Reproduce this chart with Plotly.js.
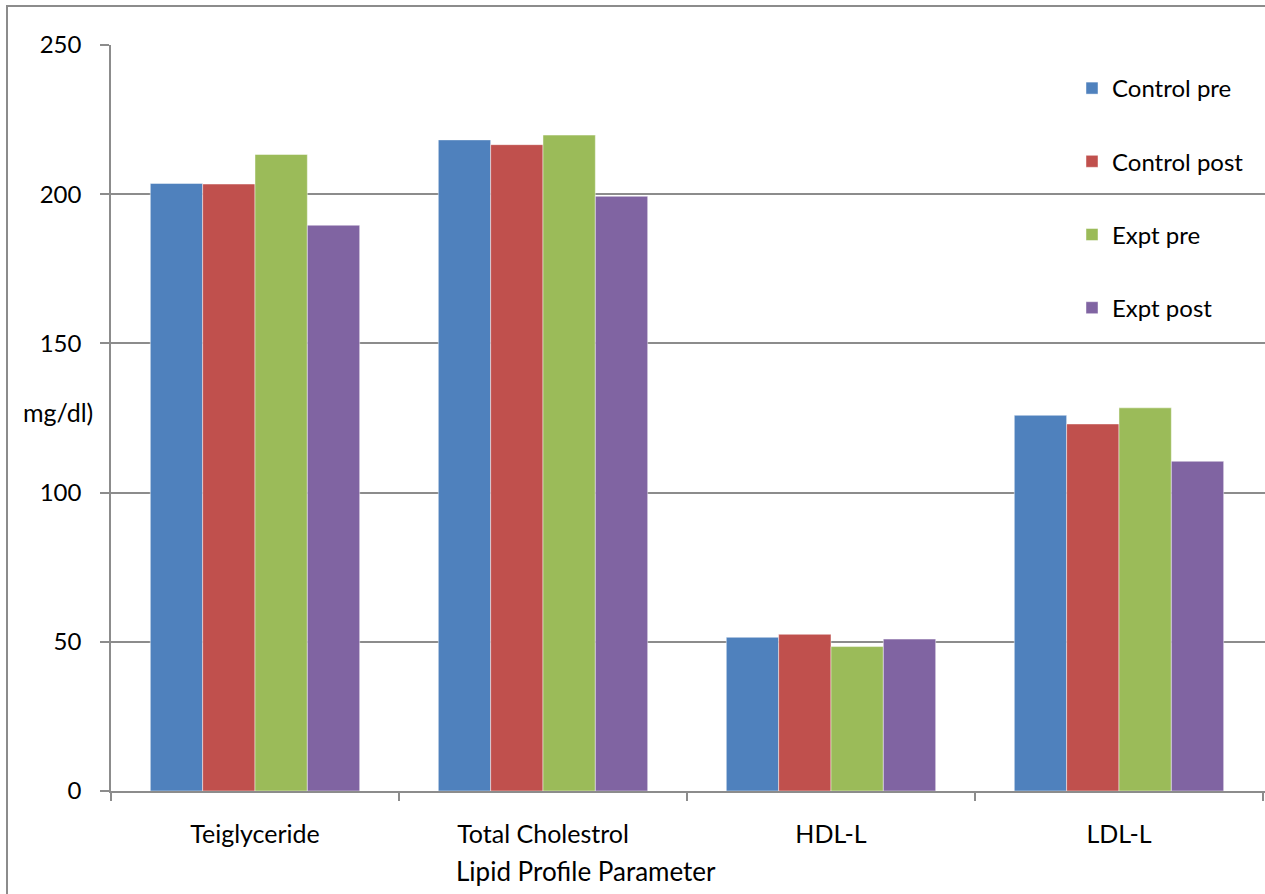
<!DOCTYPE html>
<html>
<head>
<meta charset="utf-8">
<script src="https://cdn.plot.ly/plotly-3.0.1.min.js"></script>
<style>
  html, body { margin: 0; padding: 0; background: #ffffff; }
  #chart { width: 1265px; height: 894px; }
</style>
</head>
<body>
<div id="chart"></div>
<script>
// Lipid profile parameters (mg/dl) for control and experimental groups
const categories = ["Teiglyceride", "Total Cholestrol", "HDL-L", "LDL-L"];
const controlPre  = [203.6, 218.2, 51.5, 125.9];
const controlPost = [203.4, 216.6, 52.5, 123.0];
const exptPre     = [213.3, 219.8, 48.4, 128.4];
const exptPost    = [189.6, 199.3, 50.9, 110.5];
const seriesNames = ["Control pre", "Control post", "Expt pre", "Expt post"];
const yTicks = [0, 50, 100, 150, 200, 250];

const colors = ["#4F81BD", "#C0504D", "#9BBB59", "#8064A2"];
const values = [controlPre, controlPost, exptPre, exptPost];
const FONT = "Lato, 'Open Sans', sans-serif";
const GRID = "#8c8c8c";

// plot area in pixels
const PL = 111, PT = 45, PW = 1154, PH = 746;
const px = x => (x - PL) / PW;
const py = y => (PT + PH - y) / PH;

const traces = values.map((v, i) => ({
  type: "bar",
  name: seriesNames[i],
  x: categories,
  y: v,
  legendgroup: "g" + i,
  marker: { color: colors[i], line: { color: "rgba(255,255,255,0.45)", width: 1 } },
  hoverinfo: "x+y+name"
}));

const layout = {
  width: 1265,
  height: 894,
  margin: { l: PL, r: 0, t: PT, b: 894 - PT - PH },
  paper_bgcolor: "#ffffff",
  plot_bgcolor: "#ffffff",
  font: { family: FONT, size: 24, color: "#000000" },
  barmode: "group",
  bargap: 0.273,
  bargroupgap: 0,
  showlegend: true,
  legend: {
    x: px(1072), xref: "paper",
    y: py(66), yanchor: "top",
    bgcolor: "rgba(0,0,0,0)",
    font: { family: FONT, size: 24, color: "#000" },
    tracegroupgap: 39,
    itemwidth: 30,
    traceorder: "grouped"
  },
  xaxis: {
    type: "category",
    range: [-0.5, 3.507],
    showline: true,
    linecolor: GRID,
    linewidth: 1.5,
    ticks: "outside",
    tickson: "boundaries",
    ticklen: 8,
    tickcolor: GRID,
    tickwidth: 1.5,
    ticklabelstandoff: 20,
    tickfont: { family: FONT, size: 25, color: "#000" },
    showgrid: false,
    zeroline: false
  },
  yaxis: {
    range: [0, 250],
    tickvals: yTicks,
    showline: true,
    linecolor: GRID,
    linewidth: 1.5,
    ticks: "outside",
    ticklen: 9,
    tickcolor: GRID,
    tickwidth: 1.5,
    ticklabelstandoff: 14,
    showgrid: true,
    gridcolor: GRID,
    gridwidth: 1.5,
    zeroline: false,
    tickfont: { family: FONT, size: 24, color: "#000" }
  },
  annotations: [
    {
      text: "Lipid Profile Parameter",
      xref: "paper", yref: "paper",
      x: px(586), y: py(871),
      xanchor: "center", yanchor: "middle",
      showarrow: false,
      font: { family: FONT, size: 26, color: "#000" }
    },
    {
      text: "mg/dl)",
      xref: "paper", yref: "paper",
      x: px(58), y: py(412),
      xanchor: "center", yanchor: "middle",
      showarrow: false,
      font: { family: FONT, size: 25, color: "#000" }
    }
  ],
  shapes: [
    {
      type: "rect",
      xref: "paper", yref: "paper",
      x0: px(7), x1: px(1280),
      y0: py(910), y1: py(6),
      line: { color: "#8c8c8c", width: 2 },
      fillcolor: "rgba(0,0,0,0)",
      layer: "below"
    }
  ]
};

Plotly.newPlot("chart", traces, layout, { displayModeBar: false, responsive: false });
</script>
</body>
</html>
